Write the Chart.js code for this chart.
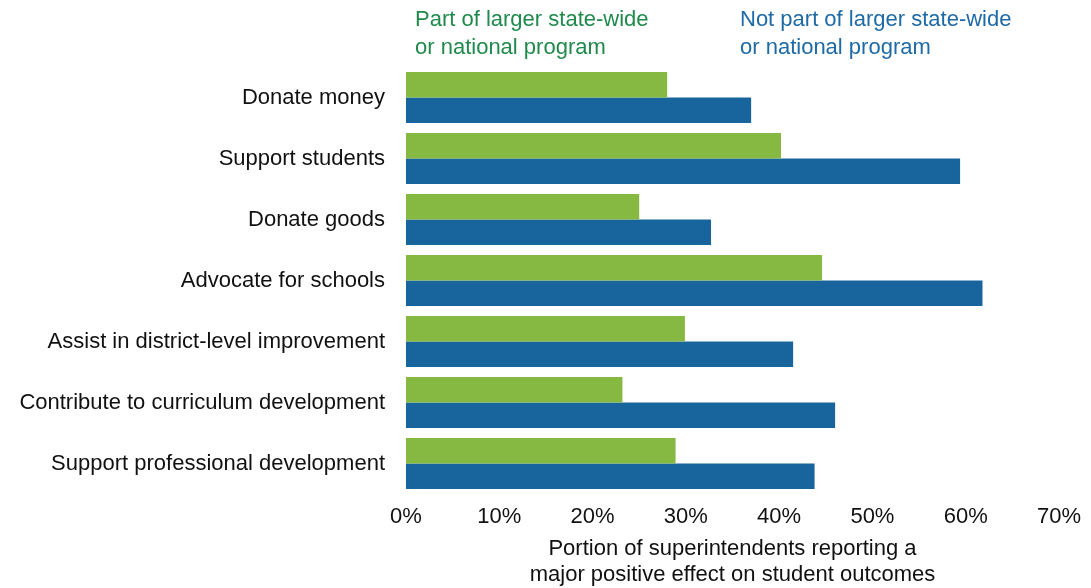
<!DOCTYPE html>
<html>
<head>
<meta charset="utf-8">
<script src="https://cdn.jsdelivr.net/npm/chart.js@4/dist/chart.umd.min.js"></script>
<style>
  html, body { margin: 0; padding: 0; background: #fff; }
  #wrap { width: 1091px; height: 588px; position: relative; }
</style>
</head>
<body>
<div id="wrap"><canvas id="c"></canvas></div>
<script>
const categories = [
  'Donate money',
  'Support students',
  'Donate goods',
  'Advocate for schools',
  'Assist in district-level improvement',
  'Contribute to curriculum development',
  'Support professional development'
];
const partOfProgram = [28.0, 40.2, 25.0, 44.6, 29.9, 23.2, 28.9];
const notPartOfProgram = [37.0, 59.4, 32.7, 61.8, 41.5, 46.0, 43.8];
const xTicks = [0, 10, 20, 30, 40, 50, 60, 70];
const seriesLabels = [
  ['Part of larger state-wide', 'or national program'],
  ['Not part of larger state-wide', 'or national program']
];
const axisTitle = ['Portion of superintendents reporting a', 'major positive effect on student outcomes'];

const FONT = "'Liberation Sans', Arial, sans-serif";
const GREEN_BAR = '#86b942';
const BLUE_BAR = '#18649c';
const GREEN_TEXT = '#1f8a4c';
const BLUE_TEXT = '#1d6aa6';

// Series names drawn as two-line coloured captions above the plot
const captionPlugin = {
  id: 'captions',
  afterDraw(chart) {
    const ctx = chart.ctx;
    ctx.save();
    ctx.font = '22px ' + FONT;
    ctx.textBaseline = 'middle';
    ctx.textAlign = 'left';
    const xs = [415, 740];
    const colors = [GREEN_TEXT, BLUE_TEXT];
    seriesLabels.forEach((lines, i) => {
      ctx.fillStyle = colors[i];
      lines.forEach((ln, j) => ctx.fillText(ln, xs[i], 20 + j * 28));
    });
    ctx.restore();
  }
};

new Chart(document.getElementById('c'), {
  type: 'bar',
  data: {
    labels: categories,
    datasets: [
      { label: seriesLabels[0].join(' '), data: partOfProgram, backgroundColor: GREEN_BAR },
      { label: seriesLabels[1].join(' '), data: notPartOfProgram, backgroundColor: BLUE_BAR }
    ]
  },
  options: {
    indexAxis: 'y',
    responsive: true,
    maintainAspectRatio: false,
    animation: false,
    layout: { padding: { top: 67, right: 30, left: 0, bottom: 0 } },
    datasets: { bar: { categoryPercentage: 0.84, barPercentage: 1.0 } },
    plugins: { legend: { display: false }, tooltip: { enabled: false } },
    scales: {
      x: {
        min: 0, max: 70,
        afterBuildTicks(scale) { scale.ticks = xTicks.map(v => ({ value: v })); },
        afterFit(scale) { scale.height = 94; },
        grid: { display: false, drawTicks: false },
        border: { display: false },
        ticks: {
          color: '#111',
          font: { family: FONT, size: 22 },
          padding: 10,
          maxRotation: 0,
          callback: v => v + '%'
        },
        title: {
          display: true,
          text: axisTitle,
          color: '#111',
          font: { family: FONT, size: 22, lineHeight: 1.18 },
          padding: { top: 3, bottom: 0 }
        }
      },
      y: {
        afterFit(scale) { scale.width = 406; },
        grid: { display: false, drawTicks: false },
        border: { display: false },
        ticks: {
          color: '#111',
          font: { family: FONT, size: 22 },
          padding: 21
        }
      }
    }
  },
  plugins: [captionPlugin]
});
</script>
</body>
</html>
